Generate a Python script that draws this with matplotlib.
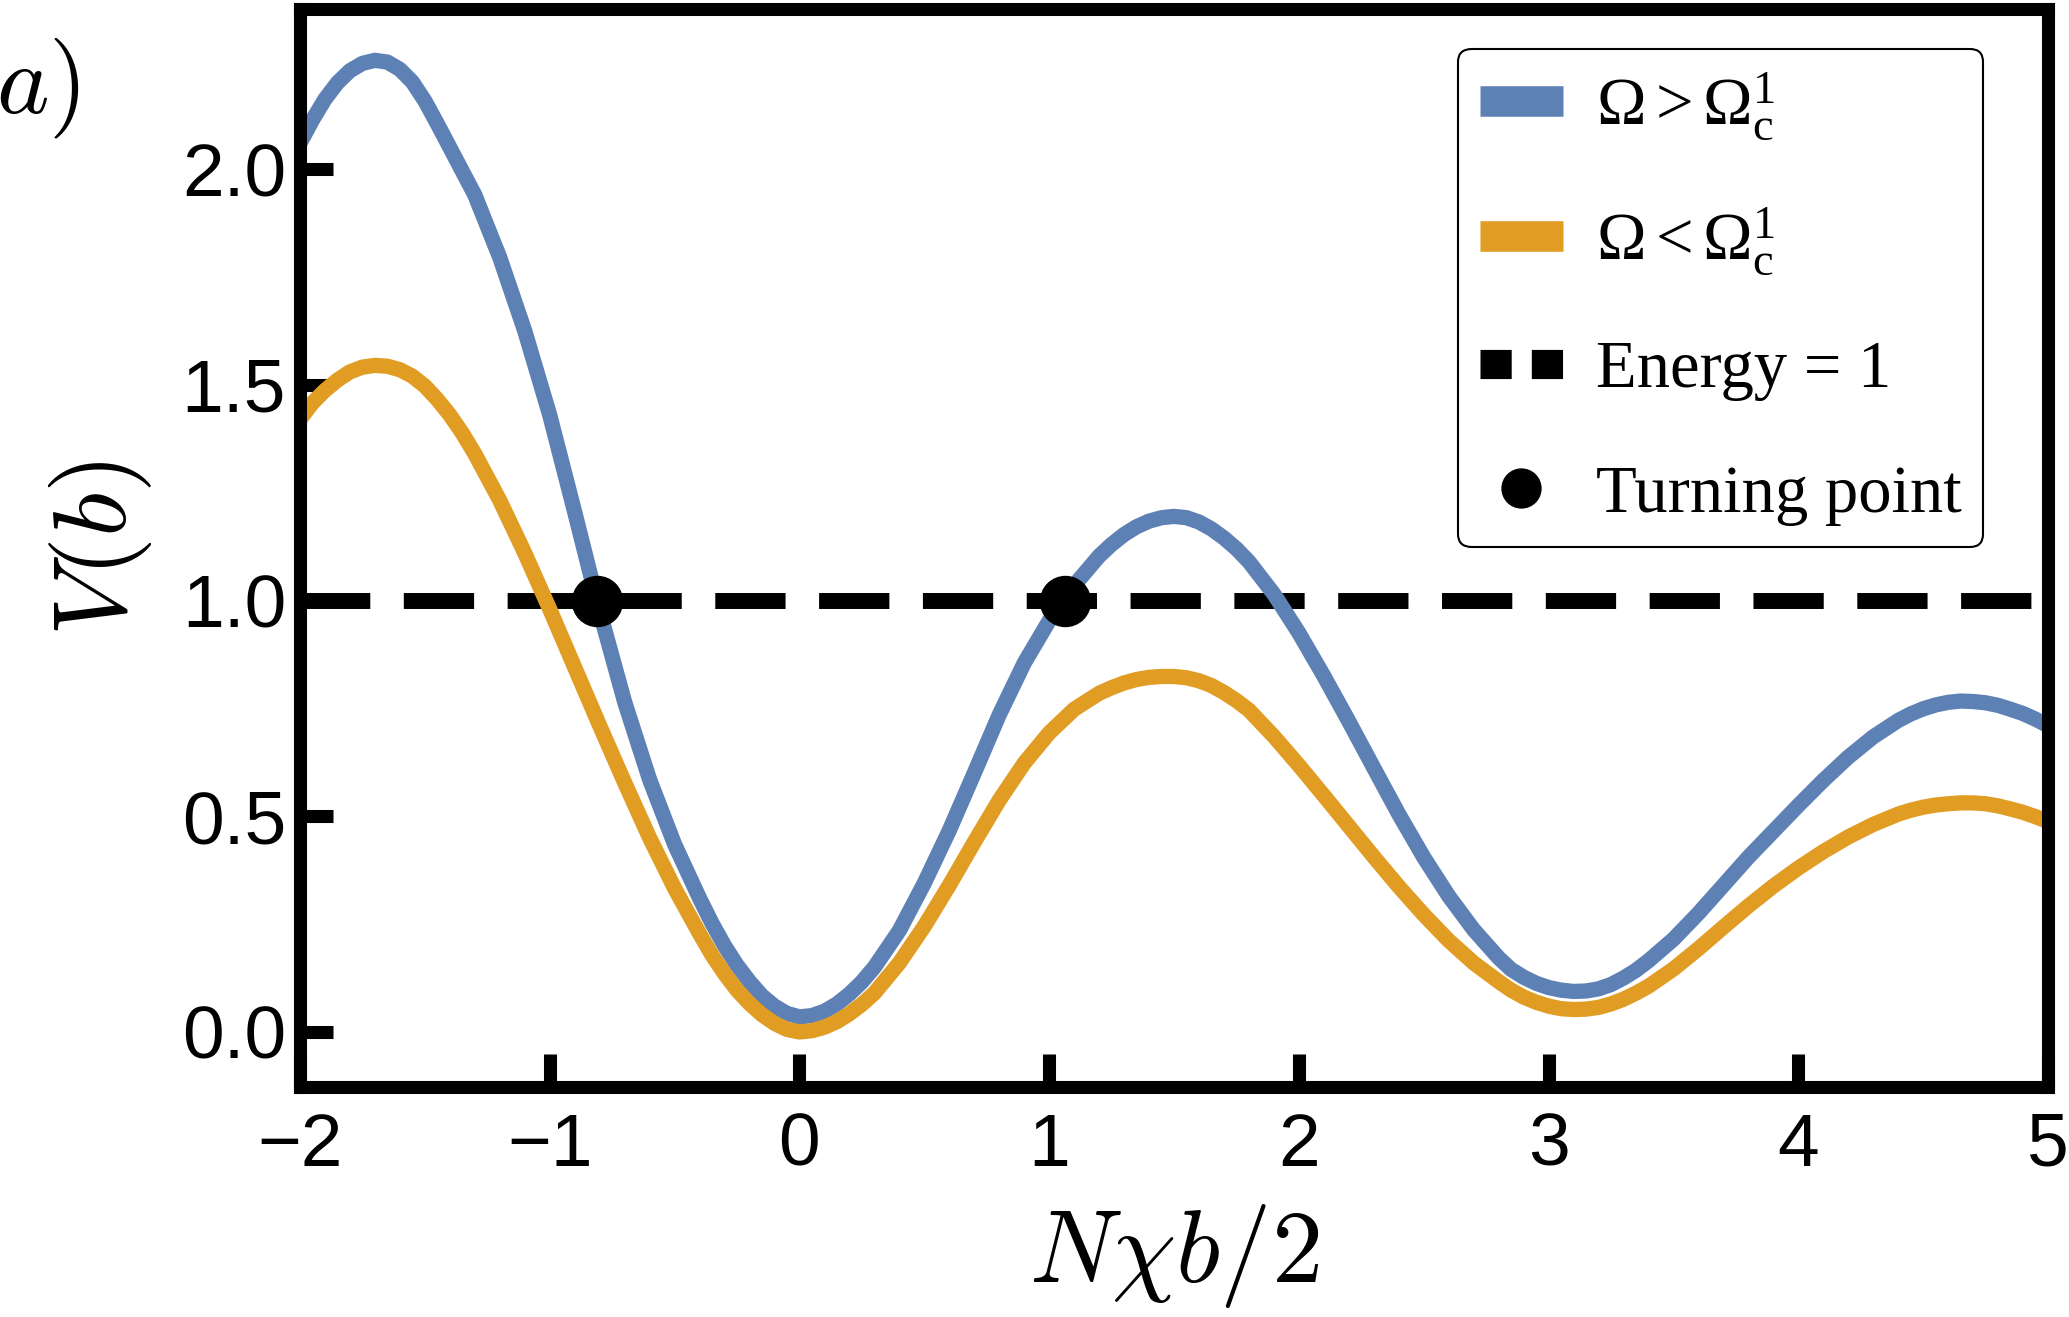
import matplotlib
matplotlib.use("Agg")
import matplotlib.pyplot as plt
from matplotlib.lines import Line2D
from matplotlib.ticker import FormatStrFormatter

# ---------------- data ----------------
x_vals = [-2.0, -1.95, -1.9, -1.85, -1.8, -1.75, -1.7, -1.65, -1.6, -1.55, -1.5, -1.45, -1.4, -1.35, -1.3,
          -1.2, -1.1, -1.0, -0.9, -0.8, -0.7, -0.6, -0.5, -0.4,
          -0.35, -0.3, -0.25, -0.2, -0.15, -0.1, -0.05, 0.0, 0.05, 0.1, 0.15, 0.2, 0.25, 0.3,
          0.4, 0.5, 0.6, 0.7, 0.8, 0.9, 1.0, 1.1,
          1.2, 1.25, 1.3, 1.35, 1.4, 1.45, 1.5, 1.55, 1.6, 1.65, 1.7, 1.75, 1.8,
          1.9, 2.0, 2.1, 2.2, 2.3, 2.4, 2.5, 2.6, 2.7, 2.8,
          2.85, 2.9, 2.95, 3.0, 3.05, 3.1, 3.15, 3.2, 3.25, 3.3, 3.35, 3.4,
          3.5, 3.6, 3.7, 3.8, 3.9, 4.0, 4.1, 4.2, 4.3, 4.4,
          4.45, 4.5, 4.55, 4.6, 4.65, 4.7, 4.75, 4.8, 4.85, 4.9, 4.95, 5.0]

v_above = [2.06, 2.114, 2.162, 2.2, 2.228, 2.245, 2.252, 2.248, 2.231, 2.202, 2.158, 2.105, 2.05, 1.995, 1.94,
           1.795, 1.625, 1.43, 1.205, 0.975, 0.765, 0.585, 0.435, 0.31,
           0.252, 0.20, 0.155, 0.117, 0.084, 0.06, 0.043, 0.035, 0.038, 0.048, 0.065, 0.088, 0.116, 0.15,
           0.235, 0.345, 0.467, 0.60, 0.735, 0.855, 0.953, 1.035,
           1.103, 1.13, 1.153, 1.171, 1.184, 1.192, 1.195, 1.192, 1.182, 1.166, 1.145, 1.12, 1.09,
           1.015, 0.925, 0.825, 0.72, 0.612, 0.505, 0.405, 0.315, 0.237, 0.172,
           0.145, 0.127, 0.113, 0.103, 0.097, 0.094, 0.095, 0.10, 0.11, 0.125, 0.143, 0.165,
           0.215, 0.275, 0.34, 0.405, 0.465, 0.525, 0.583, 0.637, 0.684, 0.722,
           0.737, 0.749, 0.758, 0.764, 0.767, 0.766, 0.763, 0.757, 0.748, 0.738, 0.725, 0.71]

v_below = [1.42, 1.458, 1.487, 1.511, 1.53, 1.541, 1.545, 1.543, 1.535, 1.52, 1.497, 1.466, 1.43, 1.388, 1.34,
           1.232, 1.11, 0.98, 0.845, 0.71, 0.578, 0.45, 0.333, 0.228,
           0.178, 0.135, 0.097, 0.066, 0.04, 0.02, 0.006, 0.0, 0.003, 0.011, 0.024, 0.042, 0.064, 0.09,
           0.16, 0.245, 0.34, 0.44, 0.537, 0.623, 0.693, 0.748,
           0.785, 0.798, 0.809, 0.817, 0.822, 0.824, 0.824, 0.821, 0.814, 0.803, 0.787, 0.768, 0.746,
           0.685, 0.618, 0.548, 0.477, 0.406, 0.337, 0.272, 0.212, 0.16, 0.117,
           0.097, 0.081, 0.069, 0.06, 0.054, 0.052, 0.053, 0.057, 0.065, 0.076, 0.09, 0.106,
           0.146, 0.193, 0.243, 0.292, 0.338, 0.38, 0.418, 0.452, 0.481, 0.505,
           0.514, 0.521, 0.526, 0.529, 0.531, 0.531, 0.529, 0.524, 0.517, 0.509, 0.499, 0.488]

energy_level = 1.0
turning_x = [-0.81, 1.065]
turning_v = [1.0, 1.0]

x_ticks = [-2, -1, 0, 1, 2, 3, 4, 5]
y_ticks = [0.0, 0.5, 1.0, 1.5, 2.0]

legend_labels = [r"$\Omega > \Omega_{\mathrm{c}}^{1}$",
                 r"$\Omega < \Omega_{\mathrm{c}}^{1}$",
                 "Energy = 1",
                 "Turning point"]

# ---------------- style ----------------
BLUE = "#5E81B5"
ORANGE = "#E19C24"

plt.rcParams["font.family"] = ["Liberation Sans", "DejaVu Sans"]
plt.rcParams["mathtext.fontset"] = "custom"
plt.rcParams["mathtext.rm"] = "Liberation Serif"
plt.rcParams["mathtext.it"] = "Liberation Serif:italic"
plt.rcParams["mathtext.bf"] = "Liberation Serif:bold"

W, H = 2069, 1317
fig = plt.figure(figsize=(W / 100, H / 100), dpi=100)
ax = fig.add_axes([300 / W, 1 - 1087 / H, 1748 / W, 1078 / H])

ax.axhline(energy_level, color="k", lw=11.5, dashes=(4.4, 2.1), zorder=1.5)
ax.plot(x_vals, v_above, color=BLUE, lw=11, solid_joinstyle="round", zorder=2)
ax.plot(x_vals, v_below, color=ORANGE, lw=11, solid_joinstyle="round", zorder=2.1)
ax.plot(turning_x, turning_v, "o", color="k", ms=36, zorder=4)

ax.set_xlim(-2, 5)
ax.set_ylim(-0.1275, 2.371)
ax.set_xticks(x_ticks)
ax.set_yticks(y_ticks)
ax.yaxis.set_major_formatter(FormatStrFormatter("%.1f"))

for sp in ax.spines.values():
    sp.set_linewidth(9.4)
    sp.set_zorder(5)

ax.tick_params(axis="both", which="major", direction="in", length=24, width=9.4,
               labelsize=54, top=False, right=False)
ax.tick_params(axis="x", pad=18)
ax.tick_params(axis="y", pad=10)

# axis labels
fig.text(100 / W, 1 - 548 / H, r"$V(b)$", rotation=90, ha="center", va="center",
         fontsize=74, math_fontfamily="cm")
fig.text(1174 / W, 1 - 1256 / H, r"$N\chi b/2$", ha="center", va="center",
         fontsize=74, math_fontfamily="cm")
fig.text(-0.002, 1 - 88 / H, r"$a)$", ha="left", va="center",
         fontsize=72, math_fontfamily="cm")

# legend
handles = [Line2D([], [], color=BLUE, lw=22, solid_capstyle="butt"),
           Line2D([], [], color=ORANGE, lw=22, solid_capstyle="butt"),
           Line2D([], [], color="k", lw=21, dashes=(1.07, 0.69), dash_capstyle="butt"),
           Line2D([], [], color="k", marker="o", ls="none", ms=28)]
leg = ax.legend(handles, legend_labels, loc="upper right", bbox_to_anchor=(0.963, 0.963),
                borderaxespad=0.0,
                prop={"family": "Liberation Serif", "size": 48},
                handlelength=1.25, handletextpad=0.5, labelspacing=0.95,
                borderpad=0.32, frameon=True, fancybox=True, framealpha=1)
leg.get_frame().set_edgecolor("k")
leg.get_frame().set_linewidth(1.5)
leg.set_zorder(6)

fig.savefig("out.png", dpi=100)
